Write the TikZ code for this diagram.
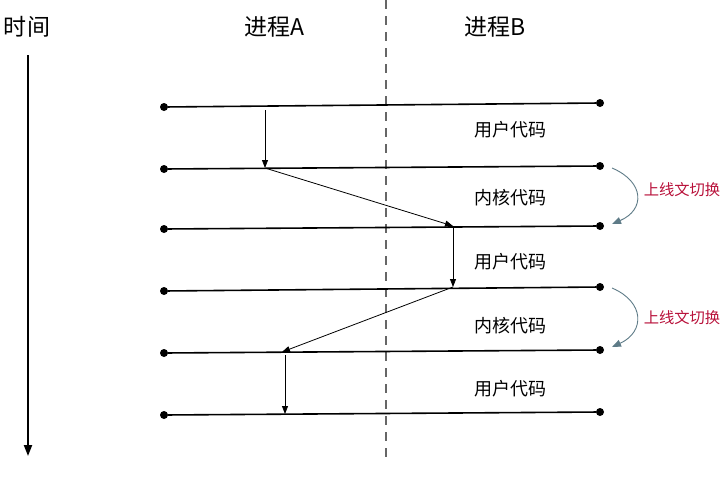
\documentclass[tikz,border=0pt]{standalone}
\usepackage{fontspec}
\setmainfont{Noto Sans CJK SC}
\usetikzlibrary{arrows.meta}
\definecolor{curvecol}{HTML}{5E7B87}
\definecolor{redtxt}{HTML}{B8113A}
\begin{document}
\begin{tikzpicture}[x=1pt,y=-1pt,
  dot/.style={circle,fill=black,inner sep=0pt,minimum size=8pt},
  tline/.style={line width=1.6pt},
  flow/.style={line width=0.8pt,-{Triangle[length=8pt,width=6pt]}},
  sw/.style={line width=0.9pt,curvecol,-{Triangle[length=9pt,width=7pt]}},
  lbl/.style={font=\fontsize{18}{21}\selectfont},
  title/.style={font=\fontsize{23}{26}\selectfont},
  red/.style={text=redtxt,font=\fontsize{15.3}{18}\selectfont}]
\useasboundingbox (0,0) rectangle (725,479);
% titles
\node[title] (t0) at (27,27) {时间};
\node[title] (tA) at (274,27) {进程A};
\node[title] (tB) at (495,27) {进程B};
% time axis
\coordinate (ts) at (28,55);
\coordinate (te) at (28,456);
\draw[line width=2pt,-{Triangle[length=11pt,width=8pt]}] (ts) -- (te);
% divider
\coordinate (ds) at (386,0);
\coordinate (de) at (386,462);
\draw[gray!80!black,line width=1.6pt,dash pattern=on 9pt off 7pt] (ds) -- (de);
% horizontal lines
\node[dot] (L1) at (164,107) {}; \node[dot] (R1) at (600,103) {};
\node[dot] (L2) at (164,169) {}; \node[dot] (R2) at (600,166) {};
\node[dot] (L3) at (164,229) {}; \node[dot] (R3) at (600,226) {};
\node[dot] (L4) at (164,291) {}; \node[dot] (R4) at (600,287) {};
\node[dot] (L5) at (164,353) {}; \node[dot] (R5) at (600,350) {};
\node[dot] (L6) at (164,415) {}; \node[dot] (R6) at (600,412) {};
\foreach \i in {1,...,6} \draw[tline] (L\i) -- (R\i);
% labels
\node[lbl] (u1) at (510,130) {用户代码};
\node[lbl] (k1) at (510,198) {内核代码};
\node[lbl] (u2) at (510,262) {用户代码};
\node[lbl] (k2) at (510,326) {内核代码};
\node[lbl] (u3) at (510,389) {用户代码};
% flow
\coordinate (a1) at (265,110);
\coordinate (a2) at (265,168);
\coordinate (a3) at (453,226);
\coordinate (a3b) at (453,228);
\coordinate (a4) at (453,287);
\coordinate (a5) at (282,352);
\coordinate (a5b) at (285,355);
\coordinate (a6) at (285,414);
\draw[flow] (a1) -- (a2);
\draw[flow] (a2) -- (a3);
\draw[flow] (a3b) -- (a4);
\draw[flow] (a4) -- (a5);
\draw[flow] (a5b) -- (a6);
% context switches
\coordinate (c1s) at (612,168);
\coordinate (c1e) at (612,224);
\coordinate (c2s) at (612,288);
\coordinate (c2e) at (612,347);
\draw[sw] (c1s) .. controls (645,182) and (645,210) .. (c1e);
\draw[sw] (c2s) .. controls (645,302) and (645,332) .. (c2e);
\node[red] (s1) at (682,190) {上线文切换};
\node[red] (s2) at (682,318) {上线文切换};
\end{tikzpicture}
\end{document}
